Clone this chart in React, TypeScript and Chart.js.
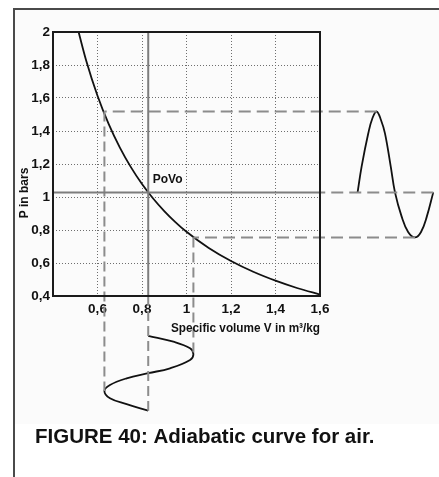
import React, { useEffect, useRef } from 'react';
import { Chart, registerables } from 'chart.js';

Chart.register(...registerables);

// Axis ranges / ticks
const xMin = 0.4;
const xMax = 1.6;
const yMin = 0.4;
const yMax = 2;
const tickStep = 0.2;

// Adiabatic curve P·V^γ
const curveV = [0.515, 0.55, 0.6, 0.65, 0.7, 0.75, 0.8, 0.85, 0.9, 0.95, 1.0, 1.1, 1.2, 1.3, 1.4, 1.5, 1.6];
const curveP = [2.0, 1.823, 1.614, 1.443, 1.301, 1.181, 1.079, 0.991, 0.915, 0.848, 0.789, 0.691, 0.612, 0.547, 0.493, 0.447, 0.409];

// Pressure oscillation drawn to the right (time runs to the right)
const pulseT = [2.109, 2.08, 2.054, 2.027, 1.996, 1.967, 1.937, 1.918, 1.892, 1.874, 1.855, 1.836, 1.817, 1.787, 1.769];
const pulseP = [1.028, 0.881, 0.788, 0.755, 0.788, 0.881, 1.028, 1.184, 1.386, 1.467, 1.518, 1.479, 1.386, 1.184, 1.028];

// Volume oscillation drawn below (time runs downward)
const swingV = [0.828, 0.941, 1.016, 1.031, 1.016, 0.926, 0.828, 0.731, 0.656, 0.631, 0.656, 0.731, 0.828];
const swingT = [0.158, 0.123, 0.083, 0.047, 0.012, -0.038, -0.068, -0.099, -0.139, -0.176, -0.22, -0.255, -0.295];

// Reference levels
const P0 = 1.028;
const V0 = 0.828;
const pHigh = 1.518;
const vLow = 0.631;
const pLow = 0.755;
const vHigh = 1.031;

const FONT = '"Liberation Sans", Arial, Helvetica, sans-serif';

const pts = (xs: number[], ys: number[]) => xs.map((x, i) => ({ x, y: ys[i] }));
const fmt = (v: number) => String(Math.round(v * 10) / 10).replace('.', ',');

export default function App() {
  const ref = useRef<HTMLCanvasElement>(null);

  useEffect(() => {
    const canvas = ref.current;
    if (!canvas) return;

    const base = {
      showLine: true,
      pointRadius: 0,
      pointHoverRadius: 0,
      clip: false as any,
      capBezierPoints: false,
      fill: false,
    };
    const dashStyle = { ...base, borderColor: '#8c8c8c', borderWidth: 2, borderDash: [12, 6], tension: 0 };
    const vDashStyle = { ...base, borderColor: '#8c8c8c', borderWidth: 2, borderDash: [10, 5], tension: 0 };
    const solidRef = { ...base, borderColor: '#7d7d7d', borderWidth: 2, tension: 0 };
    const blackCurve = { ...base, borderColor: '#111', borderWidth: 1.8 };

    const deco = {
      id: 'deco',
      beforeDraw(chart: any) {
        const { ctx, width, height } = chart;
        ctx.save();
        ctx.fillStyle = '#ffffff';
        ctx.fillRect(0, 0, width, height);
        ctx.fillStyle = '#fbfbfb';
        ctx.fillRect(15, 10, width - 15, 414);
        ctx.strokeStyle = '#4a4a4a';
        ctx.lineWidth = 2;
        ctx.beginPath();
        ctx.moveTo(14, height);
        ctx.lineTo(14, 9);
        ctx.lineTo(width, 9);
        ctx.stroke();
        ctx.restore();
      },
      afterDatasetsDraw(chart: any) {
        const { ctx, chartArea: a, scales } = chart;
        ctx.save();
        ctx.strokeStyle = '#1a1a1a';
        ctx.lineWidth = 2;
        ctx.strokeRect(a.left, a.top, a.right - a.left, a.bottom - a.top);

        ctx.fillStyle = '#111';
        ctx.font = `bold 12px ${FONT}`;
        ctx.textBaseline = 'alphabetic';
        ctx.textAlign = 'left';
        const px = scales.x.getPixelForValue(V0);
        const py = scales.y.getPixelForValue(P0);
        ctx.fillText('PoVo', px + 4.5, py - 9);

        ctx.fillText('Specific volume V in m³/kg', 171, 332, 149);

        ctx.save();
        ctx.translate(28, 193);
        ctx.rotate(-Math.PI / 2);
        ctx.textAlign = 'center';
        ctx.fillText('P in bars', 0, 0);
        ctx.restore();

        ctx.font = `bold 20.5px ${FONT}`;
        ctx.fillText('FIGURE 40: Adiabatic curve for air.', 35, 443, 340);
        ctx.restore();
      },
    };

    const tickFont = { family: FONT, size: 13.5, weight: 'bold' as const };

    const chart = new Chart(canvas, {
      type: 'scatter',
      data: {
        datasets: [
          { ...solidRef, data: pts([xMin, xMax], [P0, P0]) },
          { ...solidRef, data: pts([V0, V0], [yMax, yMin]) },
          { ...dashStyle, data: pts([2.109, xMax], [P0, P0]) },
          { ...vDashStyle, data: pts([V0, V0], [yMin, swingT[swingT.length - 1]]) },
          { ...dashStyle, data: pts([1.855, vLow], [pHigh, pHigh]) },
          { ...vDashStyle, data: pts([vLow, vLow], [pHigh, -0.176]) },
          { ...dashStyle, data: pts([2.027, vHigh], [pLow, pLow]) },
          { ...vDashStyle, data: pts([vHigh, vHigh], [pLow, 0.047]) },
          { ...blackCurve, cubicInterpolationMode: 'monotone', data: pts(curveV, curveP) },
          { ...blackCurve, tension: 0.4, data: pts(pulseT, pulseP) },
          { ...blackCurve, tension: 0.4, data: pts(swingV, swingT) },
        ] as any,
      },
      options: {
        animation: false,
        responsive: false,
        devicePixelRatio: 1,
        events: [],
        layout: { padding: { left: 0, top: 32, right: 119, bottom: 0 } },
        plugins: {
          legend: { display: false },
          tooltip: { enabled: false },
          title: { display: false },
        },
        scales: {
          x: {
            type: 'linear',
            position: 'bottom',
            min: xMin,
            max: xMax,
            ticks: {
              stepSize: tickStep,
              padding: 5,
              color: '#111',
              font: tickFont,
              maxRotation: 0,
              autoSkip: false,
              callback: (v: any) => (Number(v) < 0.5 ? '' : fmt(Number(v))),
            },
            grid: { color: '#6e6e6e', lineWidth: 1, drawTicks: false },
            border: { display: false, dash: [1, 2] },
            afterFit: (s: any) => {
              s.height = 181;
            },
          },
          y: {
            type: 'linear',
            min: yMin,
            max: yMax,
            ticks: {
              stepSize: tickStep,
              padding: 3,
              color: '#111',
              font: tickFont,
              autoSkip: false,
              callback: (v: any) => fmt(Number(v)),
            },
            grid: { color: '#6e6e6e', lineWidth: 1, drawTicks: false },
            border: { display: false, dash: [1, 2] },
            afterFit: (s: any) => {
              s.width = 53;
            },
          },
        } as any,
      },
      plugins: [deco],
    });

    return () => chart.destroy();
  }, []);

  return (
    <div style={{ position: 'fixed', left: 0, top: 0, width: 439, height: 477 }}>
      <canvas ref={ref} width={439} height={477} style={{ display: 'block', width: 439, height: 477 }} />
    </div>
  );
}
